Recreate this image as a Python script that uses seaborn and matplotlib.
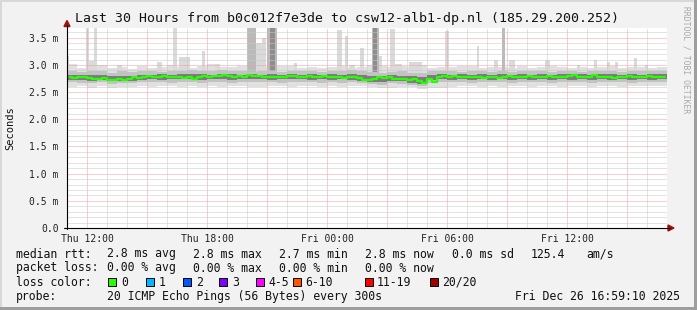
import numpy as np
import matplotlib
matplotlib.use("Agg")
import matplotlib.pyplot as plt
import seaborn as sns
from matplotlib.lines import Line2D
from matplotlib.patches import Rectangle, Polygon

# ---------------- data ----------------
title = "Last 30 Hours from b0c012f7e3de to csw12-alb1-dp.nl (185.29.200.252)"
x_tick_hours = [1, 7, 13, 19, 25]
x_tick_labels = ["Thu 12:00", "Thu 18:00", "Fri 00:00", "Fri 06:00", "Fri 12:00"]
y_ticks = [0.0, 0.5, 1.0, 1.5, 2.0, 2.5, 3.0, 3.5]
y_tick_labels = ["0.0", "0.5 m", "1.0 m", "1.5 m", "2.0 m", "2.5 m", "3.0 m", "3.5 m"]

# median rtt (ms), 120 bins of 15 minutes
median_ms = [2.77, 2.76, 2.77, 2.78, 2.76, 2.74, 2.75, 2.76, 2.73, 2.73,
             2.74, 2.73, 2.75, 2.77, 2.76, 2.78, 2.79, 2.78, 2.78, 2.79,
             2.77, 2.78, 2.77, 2.76, 2.77, 2.74, 2.78, 2.79, 2.78, 2.80,
             2.79, 2.81, 2.80, 2.78, 2.79, 2.78, 2.82, 2.80, 2.79, 2.78,
             2.77, 2.78, 2.77, 2.78, 2.80, 2.79, 2.77, 2.78, 2.79, 2.77,
             2.78, 2.79, 2.78, 2.77, 2.78, 2.76, 2.78, 2.77, 2.76, 2.73,
             2.72, 2.75, 2.77, 2.76, 2.77, 2.75, 2.74, 2.75, 2.73, 2.74,
             2.70, 2.67, 2.74, 2.68, 2.78, 2.79, 2.78, 2.79, 2.78, 2.77,
             2.78, 2.77, 2.78, 2.76, 2.77, 2.78, 2.76, 2.77, 2.79, 2.78,
             2.77, 2.78, 2.79, 2.78, 2.77, 2.78, 2.79, 2.78, 2.77, 2.78,
             2.79, 2.82, 2.78, 2.77, 2.78, 2.82, 2.78, 2.77, 2.78, 2.76,
             2.77, 2.78, 2.79, 2.78, 2.77, 2.78, 2.79, 2.78, 2.78, 2.78]

# smoke bands (ms), 60 bins of 30 minutes
hi_outer = [3.02, 2.95, 2.97, 3.00, 2.94, 2.96, 2.93, 2.98, 2.95, 2.97,
            3.00, 2.96, 2.95, 2.99, 3.01, 2.97, 2.96, 2.98, 3.02, 2.97,
            2.96, 2.99, 2.98, 2.95, 2.96, 2.94, 2.97, 2.99, 2.95, 2.96,
            3.00, 2.98, 2.96, 2.99, 2.97, 3.00, 2.95, 2.97, 2.96, 2.99,
            2.98, 2.95, 2.97, 2.96, 2.94, 2.98, 2.95, 2.97, 2.99, 2.96,
            2.95, 2.97, 2.94, 2.96, 2.98, 2.95, 2.97, 2.96, 2.95, 2.97]
lo_outer = [2.60, 2.62, 2.58, 2.61, 2.57, 2.60, 2.59, 2.62, 2.60, 2.61,
            2.62, 2.60, 2.61, 2.59, 2.62, 2.60, 2.61, 2.62, 2.60, 2.59,
            2.61, 2.62, 2.60, 2.61, 2.62, 2.60, 2.61, 2.59, 2.62, 2.61,
            2.60, 2.58, 2.57, 2.59, 2.60, 2.56, 2.58, 2.57, 2.60, 2.61,
            2.62, 2.60, 2.61, 2.60, 2.62, 2.61, 2.60, 2.62, 2.61, 2.60,
            2.62, 2.61, 2.60, 2.61, 2.62, 2.60, 2.61, 2.62, 2.61, 2.62]
hi_mid = [2.88, 2.87, 2.89, 2.88, 2.86, 2.88, 2.87, 2.89, 2.88, 2.87,
          2.89, 2.88, 2.90, 2.89, 2.88, 2.90, 2.89, 2.88, 2.87, 2.89,
          2.88, 2.87, 2.88, 2.89, 2.88, 2.87, 2.88, 2.89, 2.90, 2.88,
          2.87, 2.86, 2.87, 2.88, 2.86, 2.85, 2.88, 2.89, 2.88, 2.87,
          2.88, 2.89, 2.87, 2.88, 2.87, 2.88, 2.89, 2.88, 2.87, 2.88,
          2.89, 2.87, 2.88, 2.89, 2.88, 2.87, 2.88, 2.89, 2.88, 2.88]
lo_mid = [2.68, 2.67, 2.66, 2.68, 2.65, 2.66, 2.67, 2.68, 2.69, 2.68,
          2.67, 2.69, 2.68, 2.67, 2.69, 2.68, 2.67, 2.69, 2.68, 2.69,
          2.68, 2.67, 2.68, 2.69, 2.68, 2.67, 2.68, 2.67, 2.68, 2.66,
          2.65, 2.64, 2.66, 2.65, 2.63, 2.62, 2.67, 2.68, 2.69, 2.68,
          2.67, 2.68, 2.69, 2.68, 2.67, 2.68, 2.69, 2.68, 2.67, 2.68,
          2.69, 2.68, 2.67, 2.68, 2.69, 2.68, 2.67, 2.68, 2.68, 2.69]
hi_dark = [2.82, 2.81, 2.82, 2.81, 2.80, 2.79, 2.80, 2.81, 2.82, 2.83,
           2.82, 2.83, 2.84, 2.83, 2.82, 2.84, 2.83, 2.82, 2.83, 2.82,
           2.83, 2.82, 2.83, 2.82, 2.83, 2.82, 2.83, 2.82, 2.83, 2.81,
           2.79, 2.80, 2.81, 2.80, 2.79, 2.78, 2.82, 2.83, 2.82, 2.83,
           2.82, 2.83, 2.82, 2.83, 2.82, 2.83, 2.82, 2.83, 2.82, 2.83,
           2.84, 2.83, 2.82, 2.84, 2.83, 2.82, 2.83, 2.82, 2.83, 2.83]
lo_dark = [2.73, 2.72, 2.71, 2.72, 2.70, 2.70, 2.71, 2.73, 2.74, 2.73,
           2.74, 2.75, 2.74, 2.73, 2.75, 2.74, 2.73, 2.74, 2.75, 2.74,
           2.73, 2.74, 2.75, 2.74, 2.73, 2.74, 2.73, 2.74, 2.73, 2.71,
           2.69, 2.69, 2.71, 2.70, 2.66, 2.65, 2.73, 2.74, 2.73, 2.74,
           2.73, 2.74, 2.73, 2.74, 2.73, 2.74, 2.73, 2.74, 2.73, 2.74,
           2.73, 2.74, 2.73, 2.74, 2.73, 2.74, 2.73, 2.74, 2.73, 2.74]

# spikes: start hour, end hour, top (ms), shade level (0 light, 1 mid, 2 dark)
spike_start = [0.0, 0.95, 1.10, 1.35, 2.50, 4.50, 5.30, 5.60, 6.75, 7.40,
               9.00, 9.45, 9.75, 10.00, 10.15, 11.35, 13.50, 13.90, 14.10, 14.65,
               15.25, 15.30, 15.60, 16.15, 16.40, 17.10, 18.90, 20.50, 21.35, 21.75,
               22.10, 23.90, 25.50, 26.35, 27.00, 27.40, 28.35, 28.90]
spike_end = [0.10, 1.10, 1.35, 1.50, 2.75, 4.75, 5.50, 6.15, 6.90, 7.65,
             9.45, 9.75, 9.95, 10.50, 10.40, 11.50, 13.75, 14.05, 14.40, 14.85,
             15.60, 15.50, 15.75, 16.40, 16.75, 17.75, 19.10, 20.60, 21.55, 21.90,
             22.40, 24.15, 25.65, 26.50, 27.15, 27.55, 28.50, 29.05]
spike_top = [3.17, 3.68, 3.07, 3.68, 3.00, 3.05, 3.68, 3.15, 3.26, 3.02,
             3.68, 3.40, 3.50, 3.68, 3.68, 3.04, 3.65, 3.53, 3.00, 3.31,
             3.68, 3.68, 3.17, 3.66, 3.02, 3.05, 3.62, 3.35, 3.10, 3.68,
             3.10, 3.10, 3.00, 3.10, 3.05, 3.05, 3.13, 3.00]
spike_shade = [0, 0, 0, 0, 0, 0, 0, 0, 0, 0,
               1, 0, 0, 1, 2, 0, 0, 0, 0, 0,
               1, 2, 0, 0, 0, 0, 0, 0, 0, 1,
               0, 0, 0, 0, 0, 0, 0, 0]

loss_labels = ["0", "1", "2", "3", "4-5", "6-10", "11-19", "20/20"]
loss_colors = ["#26ff00", "#00b8ff", "#0059ff", "#7e00ff", "#ff00ff",
               "#ff5500", "#ff0000", "#a10000"]

# ---------------- styling ----------------
sns.set_style("white")
plt.rcParams["font.family"] = ["DejaVu Sans Mono", "DejaVu Sans"]

W, H = 697, 310
BG = "#f2f2f2"
fig = plt.figure(figsize=(W / 100, H / 100), dpi=100, facecolor=BG)

def fx(x):
    return x / W

def fy(y):
    return 1 - y / H

ax = fig.add_axes([fx(67), fy(228), 600 / W, 200 / H])
ax.set_facecolor("white")
ax.set_xlim(0, 30)
ax.set_ylim(0, 3.68)
for s in ax.spines.values():
    s.set_visible(False)

# dotted grid: over the light smoke, under the dense core
for h in range(1, 30):
    major = (h - 1) % 3 == 0
    ax.axvline(h, color="#f0a0a0" if major else "#c8c8c8", lw=0.72,
               ls=(0, (1, 1)), zorder=1.5)
for k in range(1, 37):
    v = k / 10
    major = k % 5 == 0
    ax.axhline(v, color="#f0a0a0" if major else "#c8c8c8", lw=0.72,
               ls=(0, (1, 1)), zorder=1.5)

edges60 = np.linspace(0, 30, len(hi_outer) + 1)
ax.stairs(hi_outer, edges60, baseline=lo_outer, fill=True, color="#e0e0e0", zorder=1)

shade_cols = ["#dadada", "#bababa", "#8e8e8e"]
for lvl in range(3):
    idx = [i for i, s in enumerate(spike_shade) if s == lvl]
    ax.bar([spike_start[i] for i in idx],
           [spike_top[i] - 2.85 for i in idx],
           width=[spike_end[i] - spike_start[i] for i in idx],
           bottom=2.85, align="edge", color=shade_cols[lvl], linewidth=0,
           zorder=1.2 + lvl * 0.1)

ax.stairs(hi_mid, edges60, baseline=lo_mid, fill=True, color="#c2c2c2", zorder=1.6)
ax.stairs(hi_dark, edges60, baseline=lo_dark, fill=True, color="#7c7c7c", zorder=1.7)

centers120 = (np.arange(len(median_ms)) + 0.5) * 30 / len(median_ms)
sns.lineplot(x=centers120, y=median_ms, ax=ax, color="#26ff00", lw=1.6,
             drawstyle="steps-mid", zorder=4)

ax.set_xticks(x_tick_hours)
ax.set_xticklabels(x_tick_labels)
ax.set_yticks(y_ticks)
ax.set_yticklabels(y_tick_labels)
ax.tick_params(axis="x", length=0, pad=4, labelsize=7, colors="#222222")
ax.tick_params(axis="y", length=0, pad=6, labelsize=7, colors="#222222")
ax.set_xlabel("")
ax.set_ylabel("")

# axes lines with arrows
fig.add_artist(Line2D([fx(67), fx(67)], [fy(229), fy(25)], color="black", lw=0.8))
fig.add_artist(Line2D([fx(64), fx(670)], [fy(228), fy(228)], color="black", lw=0.8))
fig.add_artist(Polygon([[fx(64), fy(26.5)], [fx(70), fy(26.5)], [fx(67), fy(20.5)]],
                       closed=True, color="#a01010", transform=fig.transFigure))
fig.add_artist(Polygon([[fx(668), fy(225)], [fx(668), fy(231)], [fx(674), fy(228)]],
                       closed=True, color="#a01010", transform=fig.transFigure))

# texts
fig.text(fx(347), fy(18.5), title, ha="center", va="center", fontsize=9.5, color="#111111")
fig.text(fx(10), fy(128), "Seconds", rotation=90, ha="center", va="center",
         fontsize=7.5, color="#111111")
fig.text(fx(686), fy(60), "RRDTOOL / TOBI OETIKER", rotation=-90, ha="center",
         va="center", fontsize=5.8, color="#a8a8a8")

LFS = 8.3
rows = {
    254: [(16, "median rtt:"), (107, "2.8 ms avg"), (193, "2.8 ms max"),
          (279, "2.7 ms min"), (365, "2.8 ms now"), (452, "0.0 ms sd"),
          (531, "125.4"), (586, "am/s")],
    268: [(16, "packet loss:"), (107, "0.00 % avg"), (193, "0.00 % max"),
          (279, "0.00 % min"), (365, "0.00 % now")],
    282: [(16, "loss color:")],
    296.5: [(16, "probe:"), (107, "20 ICMP Echo Pings (56 Bytes) every 300s")],
}
for yy, items in rows.items():
    for xx, txt in items:
        fig.text(fx(xx), fy(yy), txt, ha="left", va="center", fontsize=LFS, color="#111111")
fig.text(fx(680), fy(296.5), "Fri Dec 26 16:59:10 2025", ha="right", va="center",
         fontsize=LFS, color="#111111")

box_x = [108, 146, 183, 219, 256, 293, 365, 430]
lab_x = [121, 159, 196, 232, 268, 305, 377, 442]
for bx, lx, lab, col in zip(box_x, lab_x, loss_labels, loss_colors):
    fig.add_artist(Rectangle((fx(bx), fy(286)), 7.5 / W, 8 / H, facecolor=col,
                             edgecolor="black", lw=0.7, transform=fig.transFigure))
    fig.text(fx(lx), fy(282), lab, ha="left", va="center", fontsize=LFS, color="#111111")

# frame (shadeA top/left, shadeB bottom/right)
fig.add_artist(Rectangle((0, fy(2)), 1, 2 / H, facecolor="#d8d8d8", lw=0, transform=fig.transFigure))
fig.add_artist(Rectangle((0, 0), 2 / W, 1, facecolor="#d8d8d8", lw=0, transform=fig.transFigure))
fig.add_artist(Rectangle((0, 0), 1, 3 / H, facecolor="#9e9e9e", lw=0, transform=fig.transFigure))
fig.add_artist(Rectangle((fx(694), 0), 3 / W, 1, facecolor="#9e9e9e", lw=0, transform=fig.transFigure))

fig.savefig("out.png", dpi=100, facecolor=BG)
